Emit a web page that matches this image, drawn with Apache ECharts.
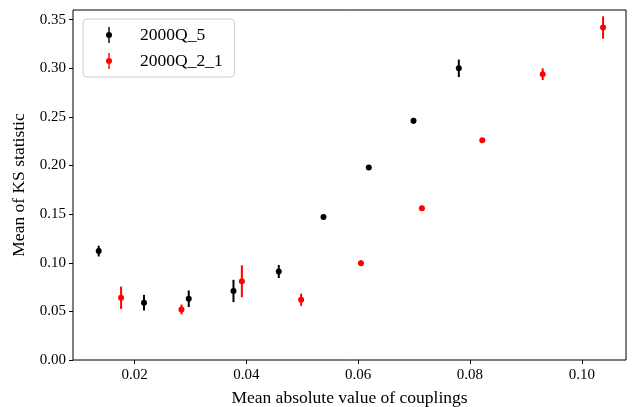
<!DOCTYPE html>
<html>
<head>
<meta charset="utf-8">
<script src="https://cdn.jsdelivr.net/npm/echarts@6/dist/echarts.min.js"></script>
<style>
    html, body { margin: 0; padding: 0; background: #fff; }
    #chart { width: 633px; height: 407px; }
</style>
</head>
<body>
<div id="chart"></div>
<script>
    // 2000Q_5 (black)
    const blackX = [0.0136, 0.0217, 0.0297, 0.0377, 0.0458, 0.0538, 0.0619, 0.0699, 0.0780];
    const blackY = [0.112, 0.059, 0.063, 0.071, 0.091, 0.147, 0.198, 0.246, 0.300];
    const blackErr = [0.0055, 0.008, 0.0085, 0.0115, 0.0067, 0.002, 0.002, 0.003, 0.009];

    // 2000Q_2_1 (red)
    const redX = [0.0176, 0.0284, 0.0392, 0.0498, 0.0605, 0.0714, 0.0822, 0.0930, 0.1038];
    const redY = [0.064, 0.052, 0.081, 0.062, 0.0996, 0.156, 0.226, 0.294, 0.342];
    const redErr = [0.0115, 0.005, 0.0164, 0.0063, 0.003, 0.0015, 0.0015, 0.006, 0.0115];

    const xTicks = [0.02, 0.04, 0.06, 0.08, 0.10];
    const yTicks = [0.00, 0.05, 0.10, 0.15, 0.20, 0.25, 0.30, 0.35];

    const FONT = "'Liberation Serif', 'DejaVu Serif', serif";
    const ICON = "path://M3.3,0h1.4v16h-1.4z M1,8a3,3 0 1,1 6,0a3,3 0 1,1 -6,0z";

    function zip(xs, ys, es) {
        return xs.map((x, i) => [x, ys[i], es[i]]);
    }

    function errRender(color) {
        return function (params, api) {
            const x = api.value(0);
            const y = api.value(1);
            const e = api.value(2);
            const c = api.coord([x, y]);
            const lo = api.coord([x, y - e]);
            const hi = api.coord([x, y + e]);
            return {
                type: "group",
                children: [
                    {
                        type: "line",
                        shape: { x1: lo[0], y1: lo[1], x2: hi[0], y2: hi[1] },
                        style: { stroke: color, lineWidth: 2 },
                    },
                    {
                        type: "circle",
                        shape: { cx: c[0], cy: c[1], r: 3 },
                        style: { fill: color },
                    },
                ],
            };
        };
    }

    const myChart = echarts.init(document.getElementById("chart"));
    const option = {
        animation: false,
        backgroundColor: "#fff",
        grid: {
            left: 73,
            right: 7,
            top: 10,
            bottom: 47,
            outerBoundsMode: "none",
            containLabel: false,
            show: true,
            borderColor: "#000",
            borderWidth: 1,
            backgroundColor: "transparent",
        },
        legend: {
            orient: "vertical",
            left: 83,
            top: 19,
            padding: [7, 12, 7, 23],
            itemGap: 8,
            itemWidth: 6,
            itemHeight: 16,
            backgroundColor: "#fff",
            borderColor: "#ccc",
            borderWidth: 1,
            borderRadius: 4,
            textStyle: {
                fontFamily: FONT,
                fontSize: 17.5,
                color: "#000",
                padding: [0, 0, 0, 23],
            },
            data: [
                { name: "2000Q_5", icon: ICON, itemStyle: { color: "#000" } },
                { name: "2000Q_2_1", icon: ICON, itemStyle: { color: "#ff0000" } },
            ],
        },
        xAxis: {
            type: "value",
            min: 0.009,
            max: 0.1079,
            name: "Mean absolute value of couplings",
            nameLocation: "middle",
            nameGap: 29,
            nameTextStyle: { fontFamily: FONT, fontSize: 17.5, color: "#000" },
            axisLine: { show: false },
            splitLine: { show: false },
            axisTick: {
                show: true,
                length: 4,
                lineStyle: { color: "#000" },
                customValues: xTicks,
            },
            axisLabel: {
                fontFamily: FONT,
                fontSize: 15,
                color: "#000",
                margin: 8,
                customValues: xTicks,
                formatter: (v) => v.toFixed(2),
            },
        },
        yAxis: {
            type: "value",
            min: 0,
            max: 0.36,
            name: "Mean of KS statistic",
            nameLocation: "middle",
            nameGap: 39,
            nameRotate: 90,
            nameTextStyle: { fontFamily: FONT, fontSize: 17.5, color: "#000" },
            axisLine: { show: false },
            splitLine: { show: false },
            axisTick: {
                show: true,
                length: 4,
                lineStyle: { color: "#000" },
                customValues: yTicks,
            },
            axisLabel: {
                fontFamily: FONT,
                fontSize: 15,
                color: "#000",
                margin: 7,
                customValues: yTicks,
                formatter: (v) => v.toFixed(2),
            },
        },
        series: [
            {
                name: "2000Q_5",
                type: "custom",
                itemStyle: { color: "#000" },
                renderItem: errRender("#000"),
                data: zip(blackX, blackY, blackErr),
            },
            {
                name: "2000Q_2_1",
                type: "custom",
                itemStyle: { color: "#ff0000" },
                renderItem: errRender("#ff0000"),
                data: zip(redX, redY, redErr),
            },
        ],
    };
    myChart.setOption(option);
</script>
</body>
</html>
